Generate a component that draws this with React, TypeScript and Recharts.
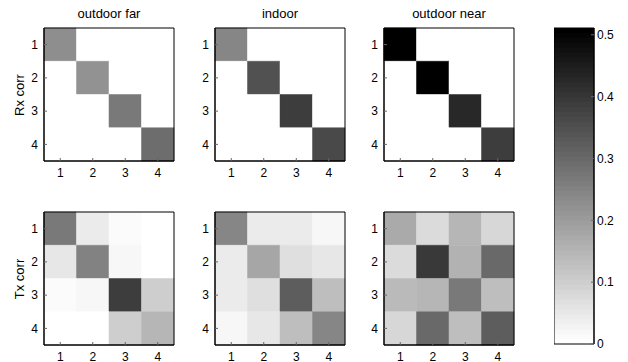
import React from 'react'
import { ComposedChart, XAxis, YAxis, ReferenceArea } from 'recharts'

const idx = [1, 2, 3, 4]
const panelTitles = ['outdoor far', 'indoor', 'outdoor near']
const rowLabels = ['Rx corr', 'Tx corr']
const colorbarTicks = [0, 0.1, 0.2, 0.3, 0.4, 0.5]
const cMax = 0.511
const levels = 64

// rows top to bottom, columns left to right
const rxOutdoorFar = [
  [0.23, 0, 0, 0],
  [0, 0.222, 0, 0],
  [0, 0, 0.267, 0],
  [0, 0, 0, 0.29],
]
const rxIndoor = [
  [0.242, 0, 0, 0],
  [0, 0.35, 0, 0],
  [0, 0, 0.39, 0],
  [0, 0, 0, 0.363],
]
const rxOutdoorNear = [
  [0.51, 0, 0, 0],
  [0, 0.51, 0, 0],
  [0, 0, 0.43, 0],
  [0, 0, 0, 0.39],
]
const txOutdoorFar = [
  [0.267, 0.046, 0.01, 0],
  [0.05, 0.255, 0.02, 0],
  [0.01, 0.02, 0.39, 0.1],
  [0, 0, 0.1, 0.15],
]
const txIndoor = [
  [0.242, 0.042, 0.042, 0.02],
  [0.046, 0.182, 0.066, 0.05],
  [0.046, 0.07, 0.327, 0.13],
  [0.022, 0.054, 0.134, 0.246],
]
const txOutdoorNear = [
  [0.174, 0.074, 0.15, 0.082],
  [0.078, 0.395, 0.158, 0.3],
  [0.142, 0.15, 0.27, 0.134],
  [0.086, 0.3, 0.134, 0.322],
]

const matrices = [
  [rxOutdoorFar, rxIndoor, rxOutdoorNear],
  [txOutdoorFar, txIndoor, txOutdoorNear],
]

const boxX = [44, 215, 384]
const boxY = [28, 212]
const boxW = 130
const boxH = 133
const font = '"Liberation Sans", Arial, sans-serif'
const tickStyle = { fontSize: 12, fill: '#000', fontFamily: font }

// flipped gray colormap, 64 steps
function grayAt(k: number) {
  const g = Math.round(255 * (1 - k / (levels - 1)))
  return `rgb(${g},${g},${g})`
}

function cellColor(v: number) {
  const k = Math.min(levels - 1, Math.max(0, Math.floor((v / cMax) * levels)))
  return grayAt(k)
}

function Panel({ matrix, left, top }: { matrix: number[][]; left: number; top: number }) {
  const cells = matrix.flatMap((row, i) => row.map((v, j) => ({ x: j + 1, y: i + 1, v })))
  return (
    <div style={{ position: 'absolute', left: left - 40, top: top - 5 }}>
      <ComposedChart
        width={40 + boxW + 5}
        height={5 + boxH + 25}
        data={cells}
        margin={{ top: 5, right: 5, left: 0, bottom: 0 }}
      >
        <XAxis
          xAxisId="b"
          type="number"
          dataKey="x"
          domain={[0.5, 4.5]}
          ticks={idx}
          height={25}
          tickSize={-3}
          tickMargin={10}
          tick={tickStyle}
          axisLine={{ stroke: '#000' }}
          tickLine={{ stroke: '#666' }}
          allowDataOverflow
        />
        <XAxis
          xAxisId="t"
          orientation="top"
          type="number"
          domain={[0.5, 4.5]}
          ticks={idx}
          height={0}
          tickSize={-3}
          tick={false}
          axisLine={{ stroke: '#000' }}
          tickLine={{ stroke: '#666' }}
          allowDataOverflow
        />
        <YAxis
          yAxisId="l"
          type="number"
          dataKey="y"
          domain={[0.5, 4.5]}
          ticks={idx}
          reversed
          width={40}
          tickSize={-3}
          tickMargin={9}
          tick={tickStyle}
          axisLine={{ stroke: '#000' }}
          tickLine={{ stroke: '#666' }}
          allowDataOverflow
        />
        <YAxis
          yAxisId="r"
          orientation="right"
          type="number"
          domain={[0.5, 4.5]}
          ticks={idx}
          reversed
          width={0}
          tickSize={-3}
          tick={false}
          axisLine={{ stroke: '#000' }}
          tickLine={{ stroke: '#666' }}
          allowDataOverflow
        />
        {cells.map((c) => (
          <ReferenceArea
            key={`${c.x}-${c.y}`}
            xAxisId="b"
            yAxisId="l"
            x1={c.x - 0.5}
            x2={c.x + 0.5}
            y1={c.y - 0.5}
            y2={c.y + 0.5}
            fill={cellColor(c.v)}
            fillOpacity={1}
            stroke={cellColor(c.v)}
            strokeWidth={0.5}
          />
        ))}
        <ReferenceArea
          xAxisId="b"
          yAxisId="l"
          x1={0.5}
          x2={4.5}
          y1={0.5}
          y2={4.5}
          fill="none"
          stroke="#000"
          strokeWidth={1}
        />
      </ComposedChart>
    </div>
  )
}

function Colorbar({ left, top, width, height }: { left: number; top: number; width: number; height: number }) {
  // each band runs from its own level to the top, so later bands cover earlier ones without seams
  const bands = Array.from({ length: levels }, (_, k) => ({ k, y1: (k * cMax) / levels }))
  return (
    <div style={{ position: 'absolute', left: left, top: top - 5 }}>
      <ComposedChart
        width={width + 40}
        height={height + 20}
        data={[{ x: 0, y: 0 }]}
        margin={{ top: 5, right: 0, left: 0, bottom: 15 }}
      >
        <XAxis xAxisId="b" type="number" dataKey="x" domain={[0, 1]} hide />
        <YAxis
          yAxisId="l"
          type="number"
          domain={[0, cMax]}
          ticks={colorbarTicks.slice(1, 5)}
          width={0}
          tickSize={-3}
          tick={false}
          axisLine={{ stroke: '#000' }}
          tickLine={{ stroke: '#666' }}
          allowDataOverflow
        />
        <YAxis
          yAxisId="r"
          orientation="right"
          type="number"
          dataKey="y"
          domain={[0, cMax]}
          ticks={colorbarTicks}
          interval={0}
          width={40}
          tickSize={-3}
          tickMargin={6}
          tick={tickStyle}
          axisLine={{ stroke: '#000' }}
          tickLine={{ stroke: '#666' }}
          allowDataOverflow
        />
        {bands.map((b) => (
          <ReferenceArea
            key={b.k}
            xAxisId="b"
            yAxisId="r"
            x1={0}
            x2={1}
            y1={b.y1}
            y2={cMax}
            fill={grayAt(b.k)}
            fillOpacity={1}
            stroke="none"
          />
        ))}
        <ReferenceArea
          xAxisId="b"
          yAxisId="r"
          x1={0}
          x2={1}
          y1={0}
          y2={cMax}
          fill="none"
          stroke="#000"
          strokeWidth={1}
        />
      </ComposedChart>
    </div>
  )
}

export default function App() {
  return (
    <div
      style={{
        position: 'absolute',
        left: 0,
        top: 0,
        width: 628,
        height: 362,
        background: '#fff',
        fontFamily: font,
      }}
    >
      {panelTitles.map((t, c) => (
        <div
          key={t}
          style={{
            position: 'absolute',
            left: boxX[c],
            width: boxW,
            top: 6,
            textAlign: 'center',
            fontSize: 13,
            lineHeight: '16px',
            color: '#000',
          }}
        >
          {t}
        </div>
      ))}
      {rowLabels.map((t, r) => (
        <div
          key={t}
          style={{
            position: 'absolute',
            left: 20 - 40,
            top: boxY[r] + boxH / 2 - 8,
            width: 80,
            textAlign: 'center',
            fontSize: 13,
            lineHeight: '16px',
            color: '#000',
            transform: 'rotate(-90deg)',
          }}
        >
          {t}
        </div>
      ))}
      {matrices.map((row, r) =>
        row.map((m, c) => <Panel key={`${r}-${c}`} matrix={m} left={boxX[c]} top={boxY[r]} />)
      )}
      <Colorbar left={554} top={28} width={40} height={316} />
    </div>
  )
}
